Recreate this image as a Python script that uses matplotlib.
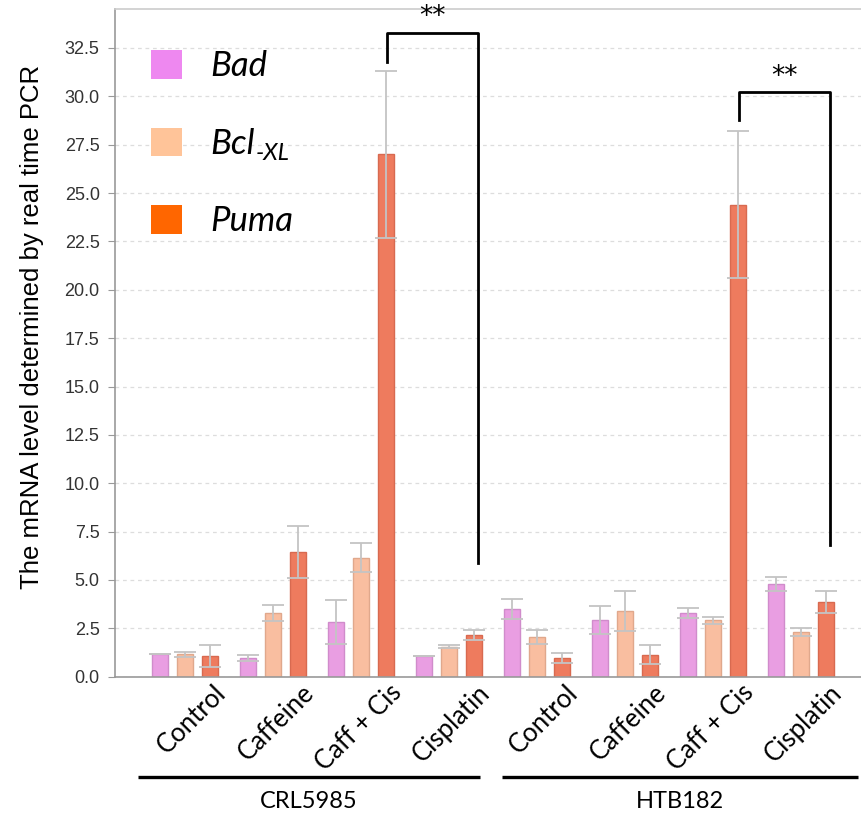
import numpy as np
import matplotlib
matplotlib.use("Agg")
import matplotlib.pyplot as plt
from matplotlib.patches import Patch

# values
treatments = ['Control', 'Caffeine', 'Caff + Cis', 'Cisplatin',
              'Control', 'Caffeine', 'Caff + Cis', 'Cisplatin']
cell_lines = ['CRL5985', 'HTB182']
genes = ['Bad', 'Bcl', 'Puma']

bad = [1.15, 0.97, 2.81, 1.05, 3.50, 2.91, 3.29, 4.81]
bad_err = [0.0, 0.17, 1.13, 0.0, 0.50, 0.72, 0.26, 0.37]
bcl = [1.15, 3.29, 6.15, 1.55, 2.05, 3.38, 2.91, 2.31]
bcl_err = [0.15, 0.43, 0.75, 0.07, 0.38, 1.03, 0.16, 0.21]
puma = [1.05, 6.44, 27.0, 2.17, 0.97, 1.14, 24.4, 3.86]
puma_err = [0.57, 1.33, 4.30, 0.26, 0.25, 0.48, 3.80, 0.55]

yticks = np.arange(0, 33, 2.5)

bar_cols = ['#e99ee2', '#f9bea0', '#ee7b5e']
edge_cols = ['#d08ccb', '#e0a88c', '#d86a50']
legend_cols = ['#ee88f0', '#ffc499', '#ff6600']

fig = plt.figure(figsize=(8.62, 8.16), dpi=100)
ax = fig.add_axes([0.1334, 0.1707, 0.8666, 0.8179])

x = np.arange(len(treatments))
w = 0.18
off = 0.285
for vals, errs, k in [(bad, bad_err, 0), (bcl, bcl_err, 1), (puma, puma_err, 2)]:
    xs = x + (k - 1) * off
    ax.bar(xs, vals, w, color=bar_cols[k], edgecolor=edge_cols[k], linewidth=1, zorder=2)
    ax.errorbar(xs, vals, yerr=errs, fmt='none', ecolor='#c4c4c4', elinewidth=1.3,
                capsize=8, capthick=1.3, zorder=3)

ax.set_xlim(-0.795, 7.69)
ax.set_ylim(0, 34.5)
ax.set_yticks(yticks)
ax.set_yticklabels(['%.1f' % v for v in yticks], fontsize=13, color='#333333',
                   family='Liberation Sans')
ax.tick_params(axis='y', length=5, color='#999999', pad=6)
ax.set_xticks([])
ax.grid(axis='y', linestyle=(0, (3, 3)), color='#dddddd', linewidth=0.9, zorder=0)
ax.set_axisbelow(True)
for s in ['left', 'bottom', 'top']:
    ax.spines[s].set_color('#999999')
    ax.spines[s].set_linewidth(1.2)
ax.spines['top'].set_color('#cccccc')
ax.spines['right'].set_visible(False)

fig.text(0.037, 0.599, 'The mRNA level determined by real time PCR', rotation=90,
         ha='center', va='center', fontsize=18.5, family='Liberation Sans')

# category labels
trans = ax.get_xaxis_transform()
for i, t in enumerate(treatments):
    ax.text(i + 0.42, -0.018, t, transform=trans, rotation=45, ha='right', va='center',
            rotation_mode='anchor', fontsize=18.5, family='Lato')

# cell line underlines and names
spans = [(-0.53, 3.35), (3.60, 7.65)]
for (a, b), name in zip(spans, cell_lines):
    ax.plot([a, b], [-0.1497, -0.1497], transform=trans, color='black', lw=2.4,
            clip_on=False, solid_capstyle='butt')
    ax.text((a + b) / 2, -0.187, name, transform=trans, ha='center', va='center',
            fontsize=17, family='Lato')

# significance brackets
brackets = [(2.29, 3.33, 31.8, 33.3, 5.9), (6.29, 7.33, 28.8, 30.2, 6.8)]
for x0, x1, yl, yt, yr in brackets:
    ax.plot([x0, x0, x1, x1], [yl, yt, yt, yr], color='black', lw=2, clip_on=False, zorder=4)
    ax.text((x0 + x1) / 2, yt + 0.8, '**', ha='center', va='center', fontsize=19,
            family='DejaVu Sans', clip_on=False)

# legend
handles = [Patch(facecolor=c, edgecolor='none') for c in legend_cols]
labels = ['Bad', 'Bcl', 'Puma']
leg = ax.legend(handles, labels, loc='upper left', bbox_to_anchor=(151 / 862, 1 - 50 / 816),
                bbox_transform=fig.transFigure, borderaxespad=0, borderpad=0,
                frameon=False, prop={'family': 'Lato', 'style': 'italic', 'size': 25},
                handlelength=0.9, handleheight=0.9, labelspacing=1.3, handletextpad=0.8)
fig.canvas.draw()
ax.annotate('-XL', xy=(1.0, 0.2), xycoords=leg.get_texts()[1], xytext=(1, 0),
            textcoords='offset points', ha='left', va='center', fontsize=17,
            family='Lato', style='italic')

fig.savefig('out.png', dpi=100)
